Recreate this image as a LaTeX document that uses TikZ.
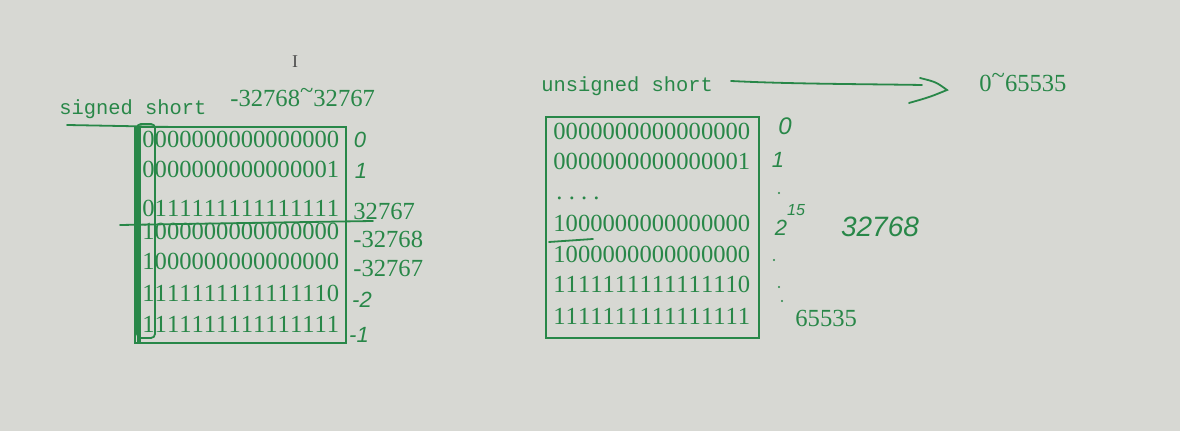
\documentclass[tikz,border=0pt]{standalone}
\usepackage{fontspec}
\setmainfont{Liberation Serif}
\setmonofont{Liberation Mono}
\newfontfamily\handfont{Liberation Sans}
\definecolor{inkgreen}{RGB}{40,135,72}
\definecolor{slide}{RGB}{215,216,211}
\newcommand{\bitfont}{\fontsize{12.3}{14}\selectfont}
\newcommand{\uptilde}{\raisebox{0.35em}{\textasciitilde}}
\makeatletter
\newcommand{\bitrow}[1]{\bit@step#1\@nil}
\def\bit@step#1{\ifx#1\@nil\else\makebox[0.5em]{#1}\expandafter\bit@step\fi}
\makeatother
\tikzset{
  bits/.style={anchor=base west, inner sep=0pt, text=inkgreen, font=\bitfont},
  typename/.style={anchor=base west, inner sep=0pt, text=inkgreen, font=\ttfamily\fontsize{10.2}{12}\selectfont},
  handnum/.style={inner sep=0pt, text=inkgreen, font=\handfont\itshape\fontsize{11}{13}\selectfont},
  frame/.style={draw=inkgreen, line width=1.2pt},
  pen/.style={draw=inkgreen, line width=0.9pt, line cap=round},
}

\begin{document}
\begin{tikzpicture}[x=0.5pt,y=-0.5pt]
\fill[slide] (0,0) rectangle (1180,431);
\useasboundingbox (0,0) rectangle (1180,431);

\node[text=black!70, inner sep=0pt] (cursor) at (295,62) {\fontsize{9}{10}\selectfont I};

% signed short
\node[typename] (sname) at (59,115) {signed short};
\draw[pen] (67,125) -- (173,127);
\node[bits] (srange) at (230,107) {-32768\uptilde32767};

\draw[frame] (135,127) rectangle (346,343);
\draw[frame, line width=0.9pt, rounded corners=2pt] (137,124) rectangle (155,338);
\draw[inkgreen, line width=2pt] (139,127) -- (139,343);

\node[bits] (s1) at (142,148) {\bitrow{0000000000000000}};
\node[bits] (s2) at (142,178) {\bitrow{0000000000000001}};
\node[bits] (s3) at (142,217) {\bitrow{0111111111111111}};
\node[bits] (s4) at (142,240) {\bitrow{1000000000000000}};
\node[bits] (s5) at (142,270) {\bitrow{1000000000000000}};
\node[bits] (s6) at (142,302) {\bitrow{1111111111111110}};
\node[bits] (s7) at (142,333) {\bitrow{1111111111111111}};

\draw[pen] (120,225) -- (373,221);

\node[handnum] (sv1) at (360,140) {0};
\node[handnum] (sv2) at (361,171) {1};
\node[bits] (sv3) at (353,220) {32767};
\node[bits] (sv4) at (353,248) {-32768};
\node[bits] (sv5) at (353,277) {-32767};
\node[handnum] (sv6) at (362,300) {-2};
\node[handnum] (sv7) at (359,335) {-1};

% unsigned short
\node[typename] (uname) at (541,92) {unsigned short};
\coordinate (arrS) at (731,81);
\coordinate (arrT) at (947,90);
\draw[pen] (arrS) .. controls (790,84) and (860,84) .. (922,85);
\draw[pen] (920,78) .. controls (936,82) .. (arrT) .. controls (930,97) .. (909,103);
\node[bits] (urange) at (979,92) {0\uptilde65535};

\draw[frame] (546,117) rectangle (759,338);

\node[bits] (u1) at (553,140) {\bitrow{0000000000000000}};
\node[bits] (u2) at (553,170) {\bitrow{0000000000000001}};
\node[bits] (u3) at (553,200) {\bitrow{....}};
\node[bits] (u4) at (553,232) {\bitrow{1000000000000000}};
\node[bits] (u5) at (553,263) {\bitrow{1000000000000000}};
\node[bits] (u6) at (553,293) {\bitrow{1111111111111110}};
\node[bits] (u7) at (553,325) {\bitrow{1111111111111111}};

\draw[pen] (549,242) -- (593,239);

\node[handnum, font=\handfont\itshape\fontsize{12}{14}\selectfont] (uv1) at (785,126) {0};
\node[handnum] (uv2) at (778,160) {1};
\node[handnum] (uv4) at (790,220) {2\raisebox{0.9em}{\fontsize{8}{9}\selectfont 15}};
\node[handnum, font=\handfont\itshape\fontsize{14}{16}\selectfont] (half) at (880,227) {32768};
\node[bits] (uv7) at (795,327) {65535};

\fill[inkgreen] (779,193) circle[radius=1.2];
\fill[inkgreen] (774,260) circle[radius=1.2];
\fill[inkgreen] (779,287) circle[radius=1.2];
\fill[inkgreen] (782,301) circle[radius=1.2];
\end{tikzpicture}
\end{document}
